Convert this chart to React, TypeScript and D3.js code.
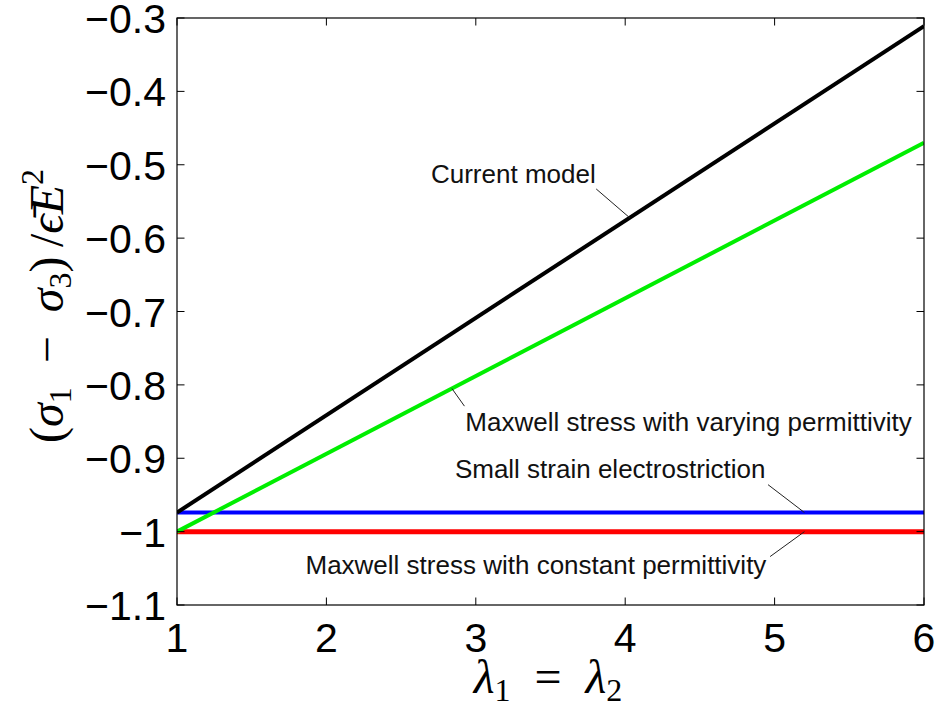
import React, { useEffect, useRef } from 'react';
import * as d3 from 'd3';

// stretch ratio lambda_1 = lambda_2
const xValues = [1, 6];

// (sigma_1 - sigma_3) / eps E^2
const currentModel = [-0.974, -0.311];
const maxwellVarying = [-1.0, -0.47];
const smallStrain = [-0.974, -0.974];
const maxwellConstant = [-1.0, -1.0];

const xTicks = [1, 2, 3, 4, 5, 6];
const yTicks = [-1.1, -1, -0.9, -0.8, -0.7, -0.6, -0.5, -0.4, -0.3];

// annotation labels, in data coordinates
const labelTexts = [
  'Current model',
  'Maxwell stress with varying permittivity',
  'Small strain electrostriction',
  'Maxwell stress with constant permittivity',
];
const labelTipX = [4.03, 2.84, 5.2, 5.2];
const labelTailX = [3.806, 2.924, 4.956, 4.97];
const labelTailY = [-0.533, -0.829, -0.936, -1.034];
const labelTextX = [2.7, 2.93, 2.86, 1.86];
const labelTextY = [-0.5245, -0.8634, -0.927, -1.0573];

const W = 942;
const H = 712;

function fmt(v: number) {
  const s = d3.format('.10~g')(v);
  return s.replace('-', '\u2212');
}

export default function App() {
  const svgRef = useRef<SVGSVGElement>(null);

  useEffect(() => {
    if (!svgRef.current) return;
    const svg = d3.select(svgRef.current);
    svg.selectAll('*').remove();

    const left = 177;
    const right = 924;
    const top = 18;
    const bottom = 605;

    const x = d3.scaleLinear().domain([1, 6]).range([left, right]);
    const y = d3.scaleLinear().domain([-1.1, -0.3]).range([bottom, top]);

    const series = [
      { values: smallStrain, color: '#0000ff', width: 4 },
      { values: maxwellConstant, color: '#ff0000', width: 5 },
      { values: maxwellVarying, color: '#00ee00', width: 4 },
      { values: currentModel, color: '#000000', width: 4 },
    ];

    svg.append('rect').attr('width', W).attr('height', H).attr('fill', '#fff');

    const line = d3
      .line<number>()
      .x((_d, i) => x(xValues[i]))
      .y((d) => y(d));

    const clip = svg.append('clipPath').attr('id', 'plot-clip');
    clip
      .append('rect')
      .attr('x', left)
      .attr('y', top)
      .attr('width', right - left)
      .attr('height', bottom - top);

    const plot = svg.append('g').attr('clip-path', 'url(#plot-clip)');
    series.forEach((s) => {
      plot
        .append('path')
        .datum(s.values)
        .attr('fill', 'none')
        .attr('stroke', s.color)
        .attr('stroke-width', s.width)
        .attr('d', line);
    });

    // frame + inward ticks on all sides
    svg
      .append('rect')
      .attr('x', left)
      .attr('y', top)
      .attr('width', right - left)
      .attr('height', bottom - top)
      .attr('fill', 'none')
      .attr('stroke', '#000')
      .attr('stroke-width', 1.2);

    const tl = 7.5;
    const ticks = svg.append('g').attr('stroke', '#000').attr('stroke-width', 1);
    xTicks.forEach((t) => {
      ticks.append('line').attr('x1', x(t)).attr('x2', x(t)).attr('y1', bottom).attr('y2', bottom - tl);
      ticks.append('line').attr('x1', x(t)).attr('x2', x(t)).attr('y1', top).attr('y2', top + tl);
    });
    yTicks.forEach((t) => {
      ticks.append('line').attr('x1', left).attr('x2', left + tl).attr('y1', y(t)).attr('y2', y(t));
      ticks.append('line').attr('x1', right).attr('x2', right - tl).attr('y1', y(t)).attr('y2', y(t));
    });

    const tickFont = "'Liberation Sans', Arial, sans-serif";
    svg
      .append('g')
      .selectAll('text')
      .data(xTicks)
      .enter()
      .append('text')
      .attr('x', (d) => x(d))
      .attr('y', bottom + 47)
      .attr('text-anchor', 'middle')
      .attr('font-family', tickFont)
      .attr('font-size', 41)
      .text((d) => fmt(d));

    svg
      .append('g')
      .selectAll('text')
      .data(yTicks)
      .enter()
      .append('text')
      .attr('x', left - 11)
      .attr('y', (d) => y(d) + 15)
      .attr('text-anchor', 'end')
      .attr('font-family', tickFont)
      .attr('font-size', 41)
      .text((d) => fmt(d));

    // annotations
    const ann = svg.append('g');
    const seriesByLabel = [currentModel, maxwellVarying, smallStrain, maxwellConstant];
    labelTexts.forEach((label, i) => {
      const onLine = d3.scaleLinear().domain(xValues).range(seriesByLabel[i]);
      ann
        .append('line')
        .attr('x1', x(labelTailX[i]))
        .attr('y1', y(labelTailY[i]))
        .attr('x2', x(labelTipX[i]))
        .attr('y2', y(onLine(labelTipX[i])))
        .attr('stroke', '#222')
        .attr('stroke-width', 1);
      ann
        .append('text')
        .attr('x', x(labelTextX[i]))
        .attr('y', y(labelTextY[i]))
        .attr('font-family', tickFont)
        .attr('font-size', 26)
        .attr('fill', '#111')
        .text(label);
    });

    const mathFont = "'Liberation Serif', 'DejaVu Serif', serif";
    const sp = '\u2002';

    // x-axis label: lambda_1 = lambda_2
    const xl = svg
      .append('text')
      .attr('x', 548)
      .attr('y', 693)
      .attr('text-anchor', 'middle')
      .attr('font-family', mathFont)
      .attr('font-size', 48);
    xl.append('tspan').attr('font-style', 'italic').text('\u03bb');
    xl.append('tspan').attr('font-size', 32).attr('dy', 8).text('1');
    xl.append('tspan').attr('dy', -8).text(`${sp}=${sp}`);
    xl.append('tspan').attr('font-style', 'italic').text('\u03bb');
    xl.append('tspan').attr('font-size', 32).attr('dy', 8).text('2');

    // y-axis label: (sigma_1 - sigma_3) / eps E^2
    const yl = svg
      .append('text')
      .attr('transform', 'translate(63,306) rotate(-90)')
      .attr('text-anchor', 'middle')
      .attr('font-family', mathFont)
      .attr('font-size', 48);
    yl.append('tspan').text('(');
    yl.append('tspan').attr('font-style', 'italic').text('\u03c3');
    yl.append('tspan').attr('font-size', 32).attr('dy', 8).text('1');
    yl.append('tspan').attr('dy', -8).text(`${sp}\u2212${sp}`);
    yl.append('tspan').attr('font-style', 'italic').text('\u03c3');
    yl.append('tspan').attr('font-size', 32).attr('dy', 8).text('3');
    yl.append('tspan').attr('dy', -8).text(')\u2009/');
    yl.append('tspan').attr('font-style', 'italic').text('\u03f5\u0304');
    yl.append('tspan').attr('font-style', 'italic').text('E');
    yl.append('tspan').attr('font-size', 32).attr('dy', -20).text('2');
  }, []);

  return (
    <svg
      ref={svgRef}
      width={W}
      height={H}
      style={{ position: 'absolute', left: 0, top: 0, display: 'block' }}
    />
  );
}
